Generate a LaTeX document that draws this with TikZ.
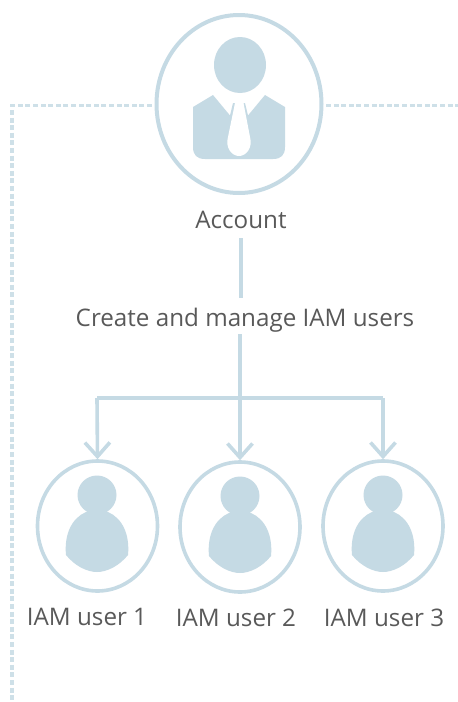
\documentclass[tikz,border=0pt]{standalone}
\usepackage{fontspec}
\setmainfont{Open Sans}
\usetikzlibrary{arrows.meta,shapes.geometric}
\definecolor{pale}{HTML}{C5DAE4}
\definecolor{txt}{HTML}{595959}
\tikzset{
  x=1pt,y=-1pt,
  ring/.style={ellipse,draw=pale,line width=3.6pt,inner sep=0pt,fill=white},
  bigring/.style={ring,line width=4pt,minimum width=165pt,minimum height=178pt},
  userring/.style={ring,minimum width=120pt,minimum height=130pt},
  lab/.style={text=txt,font=\fontsize{24.2}{27}\selectfont,inner sep=0pt},
  solidline/.style={draw=pale,line width=3.6pt},
  arrowline/.style={solidline,-{Straight Barb[length=14pt,width=25pt,line width=3.6pt]}},
  dashline/.style={draw=pale!85,line width=3.6pt,dash pattern=on 5pt off 2.6pt},
  shapefill/.style={fill=pale,draw=none},
}
\begin{document}
\begin{tikzpicture}
\useasboundingbox (0,0) rectangle (458,702);
% nodes
\node[bigring] (acct) at (239,104) {};
\node[lab,minimum height=38pt,text height=18pt,text depth=0pt] (acctlab) at (241,219) {Account};
\node[lab,minimum height=36pt,text height=25pt,text depth=5pt] (create) at (245,316) {Create and manage IAM users};
\node[userring] (u1) at (97.5,526) {};
\node[userring] (u2) at (240,527) {};
\node[userring] (u3) at (383,526) {};
\node[lab] (l1) at (87,617) {IAM user 1};
\node[lab] (l2) at (236,618) {IAM user 2};
\node[lab] (l3) at (384,618) {IAM user 3};
\coordinate (bus) at (240,398);
\coordinate (b1) at (97,398);
\coordinate (b3) at (383,398);
\coordinate (dl) at (12,105.5);
\coordinate (dlb) at (12,702);
\coordinate (dr) at (458,105.5);
\coordinate (dsl) at (152,105.5);
\coordinate (dsr) at (326,105.5);
% account icon
\fill[shapefill] (240,65) ellipse [x radius=26,y radius=28];
\fill[shapefill] (193,107) -- (213,95) -- (230,115.5) -- (233,103) -- (235,103) -- (239,125) -- (243.5,103) -- (245,103) -- (248,115.5) -- (265,95) -- (285,107) -- (285,147) .. controls (285,155) and (281,159) .. (273,159) -- (205,159) .. controls (197,159) and (193,155) .. (193,147) -- cycle;
\fill[white] (235,103) -- (243.5,103) -- (250,137) .. controls (253,148) and (246,156) .. (239,156) .. controls (232,156) and (225,148) .. (228,137) -- cycle;
% user icons
\foreach \n/\cx/\cy in {a/97/0,b/240/1,c/383/0}{
  \fill[shapefill] (\cx,495+\cy) circle (19.5);
  \fill[shapefill] (\cx-31,555+\cy) .. controls (\cx-33,534+\cy) and (\cx-25,518+\cy) .. (\cx-11,512+\cy) -- (\cx+11,512+\cy) .. controls (\cx+25,518+\cy) and (\cx+33,534+\cy) .. (\cx+31,555+\cy) .. controls (\cx+22,566+\cy) and (\cx+10,572+\cy) .. (\cx,572+\cy) .. controls (\cx-10,572+\cy) and (\cx-22,566+\cy) .. (\cx-31,555+\cy) -- cycle;
}
% connectors
\draw[solidline] (acctlab.south) -- (acctlab.south |- create.north);
\draw[solidline] (bus |- create.south) -- (bus);
\draw[solidline] (b1) -- (b3);
\draw[arrowline] (b1) -- (u1.north);
\draw[arrowline] (bus) -- (u2.north);
\draw[arrowline] (b3) -- (u3.north);
\draw[dashline] (dsl) -- (dl) -- (dlb);
\draw[dashline] (dsr) -- (dr);
\end{tikzpicture}
\end{document}
